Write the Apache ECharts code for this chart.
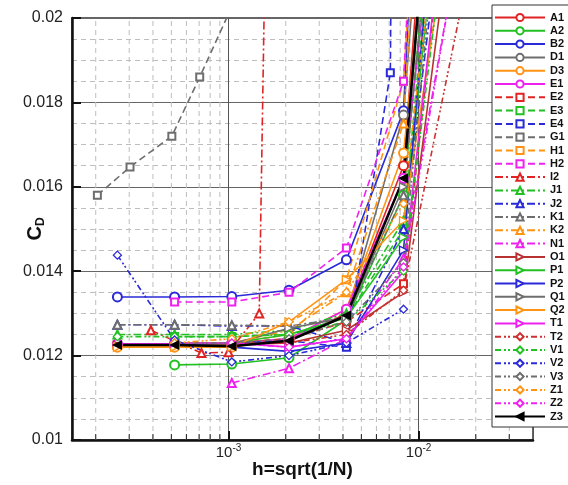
<!DOCTYPE html>
<html><head><meta charset="utf-8">
<script src="https://cdn.jsdelivr.net/npm/echarts@6/dist/echarts.min.js"></script>
<style>html,body{margin:0;padding:0;background:#fff}#c{width:568px;height:485px}</style>
</head><body><div id="c"></div>
<script>
// grid spacing values h
const H = [2.6e-4, 5.2e-4, 1.04e-3, 2.08e-3, 4.17e-3, 8.33e-3, 1.667e-2];
const H_E4 = [1.04e-3, 2.08e-3, 4.17e-3, 7.1e-3, 7.6e-3];
const H_G1 = [2.04e-4, 3.03e-4, 5.03e-4, 7.05e-4, 1.0e-3];
const H_I2 = [3.9e-4, 7.2e-4, 1.0e-3, 1.45e-3, 1.55e-3];
// CD values
const A1 = [0.01225, 0.01225, 0.01225, 0.01235, 0.0130, 0.0165, 0.034];
const A2 = [null, 0.01178, 0.0118, 0.01195, 0.01285, 0.0158, 0.030];
const B2 = [0.01339, 0.01339, 0.0134, 0.01355, 0.01427, 0.0178, 0.045];
const D1 = [0.01228, 0.01228, 0.01228, 0.0124, 0.01295, 0.0177, 0.035];
const D3 = [0.0122, 0.0122, 0.0122, 0.0124, 0.0131, 0.0168, 0.030];
const E1 = [0.01228, 0.01228, 0.0123, 0.0124, 0.0131, 0.0162, 0.028];
const E2 = [null, 0.0123, 0.0123, 0.0124, 0.0128, 0.0137, 0.026];
const E3 = [null, 0.01245, 0.01245, 0.0125, 0.0129, 0.0150, 0.030];
const E4 = [0.0123, 0.01235, 0.0122, 0.0187, 0.035];
const G1 = [0.0158, 0.01647, 0.0172, 0.0186, 0.0201];
const H1 = [null, 0.0123, 0.0123, 0.0125, 0.0138, 0.0185, 0.040];
const H2 = [null, 0.01327, 0.01327, 0.0135, 0.01455, 0.0185, 0.045];
const I2 = [0.0126, 0.01206, 0.01208, 0.0130, 0.0210];
const J1 = [0.0125, 0.0125, 0.0125, 0.0126, 0.0130, 0.0152, 0.028];
const J2 = [0.01273, 0.01273, 0.0127, 0.0127, 0.0123, 0.0150, 0.026];
const K1 = [0.01273, 0.01273, 0.01272, 0.0127, 0.0129, 0.0158, 0.030];
const K2 = [null, 0.0123, 0.0123, 0.0126, 0.0135, 0.0175, 0.040];
const N1 = [null, null, 0.01135, 0.0117, 0.0124, 0.0143, 0.022];
const O1 = [0.01225, 0.01225, 0.01225, 0.0123, 0.0126, 0.0135, 0.024];
const P1 = [null, 0.0123, 0.0123, 0.0125, 0.0129, 0.0148, 0.028];
const P2 = [null, 0.0123, 0.0122, 0.0121, 0.0123, 0.0145, 0.030];
const Q1 = [null, 0.01228, 0.01228, 0.01265, 0.0129, 0.0160, 0.032];
const Q2 = [0.0122, 0.0122, 0.0122, 0.0128, 0.0138, 0.0152, 0.024];
const T1 = [null, 0.0123, 0.0123, 0.0122, 0.0124, 0.0140, 0.026];
const T2 = [null, null, 0.0123, 0.0123, 0.0125, 0.01355, 0.0202];
const V1 = [0.01245, 0.01245, 0.01245, 0.0125, 0.0128, 0.0140, 0.025];
const V2 = [0.01438, 0.01237, 0.01185, 0.0120, 0.0123, 0.0131, null];
const V3 = [null, 0.0123, 0.0123, 0.0124, 0.0128, 0.0142, 0.028];
const Z1 = [null, 0.0123, 0.0124, 0.0128, 0.0135, 0.0156, 0.027];
const Z2 = [null, null, 0.0123, 0.0122, 0.0124, 0.0141, 0.022];
const Z3 = [0.01225, 0.01225, 0.01222, 0.01235, 0.01295, 0.0162, 0.032];
// axis ticks
const Y_TICKS = [0.01, 0.012, 0.014, 0.016, 0.018, 0.02];
const X_MINOR = [2e-4,3e-4,4e-4,5e-4,6e-4,7e-4,8e-4,9e-4,2e-3,3e-3,4e-3,5e-3,6e-3,7e-3,8e-3,9e-3,2e-2,3e-2];

const RED='#e02424', GRN='#22c022', BLU='#2a2ad8', GRY='#6e6e6e', ORG='#ff9414', MAG='#ee22ee';
const DASH=[7,4], DD=[8,3,2,3], DDD=[6,3,2,2,2,3];
const RT='path://M0,0 L10,5 L0,10 Z', LT='path://M10,0 L0,5 L10,10 Z', DI='path://M5,0 L10,5 L5,10 L0,5 Z';
const defs = [
 ['A1',H,A1,RED,'solid','emptyCircle',9],
 ['A2',H,A2,GRN,'solid','emptyCircle',9],
 ['B2',H,B2,BLU,'solid','emptyCircle',9],
 ['D1',H,D1,GRY,'solid','emptyCircle',9],
 ['D3',H,D3,ORG,'solid','emptyCircle',9],
 ['E1',H,E1,MAG,'solid','emptyCircle',9],
 ['E2',H,E2,RED,DASH,'emptyRect',7],
 ['E3',H,E3,GRN,DASH,'emptyRect',7],
 ['E4',H_E4,E4,BLU,DASH,'emptyRect',7],
 ['G1',H_G1,G1,GRY,DASH,'emptyRect',7],
 ['H1',H,H1,ORG,DASH,'emptyRect',7],
 ['H2',H,H2,MAG,DASH,'emptyRect',7],
 ['I2',H_I2,I2,RED,DD,'emptyTriangle',8],
 ['J1',H,J1,GRN,DD,'emptyTriangle',8],
 ['J2',H,J2,BLU,DD,'emptyTriangle',8],
 ['K1',H,K1,GRY,DD,'emptyTriangle',8],
 ['K2',H,K2,ORG,DD,'emptyTriangle',8],
 ['N1',H,N1,MAG,DD,'emptyTriangle',8],
 ['O1',H,O1,'#b83232','solid',RT,8],
 ['P1',H,P1,GRN,'solid',RT,8],
 ['P2',H,P2,BLU,'solid',RT,8],
 ['Q1',H,Q1,GRY,'solid',RT,8],
 ['Q2',H,Q2,ORG,'solid',RT,8],
 ['T1',H,T1,MAG,'solid',RT,8],
 ['T2',H,T2,'#cc3030',DDD,DI,8],
 ['V1',H,V1,GRN,DDD,DI,8],
 ['V2',H,V2,BLU,DDD,DI,8],
 ['V3',H,V3,GRY,DDD,DI,8],
 ['Z1',H,Z1,ORG,DDD,DI,8],
 ['Z2',H,Z2,MAG,DDD,DI,8],
 ['Z3',H,Z3,'#000000','solid',LT,8]
];
const series = defs.map(d => {
  const isPath = d[5].indexOf('path://') === 0;
  return {
    name: d[0], type: 'line', z: 3,
    data: d[1].map((x,i)=>[x, d[2][i]]).filter(p=>p[1]!=null),
    symbol: d[5], symbolSize: d[6], showAllSymbol: true,
    itemStyle: {color: (isPath && d[0]!=='Z3') ? '#fff' : d[3], borderColor: d[3], borderWidth: 1.3},
    lineStyle: {color: d[3], width: d[0]==='Z3'?2.5:1.6, type: d[4]},
    emphasis: {disabled: true}, animation: false
  };
});
series.push({
  type: 'custom', z: 1, silent: true, animation: false,
  data: X_MINOR.map(x=>[x, 0.01]),
  renderItem: function(params, api){
    const x = api.value(0);
    const p0 = api.coord([x, 0.01]), p1 = api.coord([x, 0.02]);
    return {type:'group', children:[
      {type:'line', shape:{x1:p0[0], y1:p0[1], x2:p1[0], y2:p1[1]}, style:{stroke:'#bdbdbd', lineWidth:1, lineDash:[5,4]}},
      {type:'line', shape:{x1:p0[0], y1:p0[1], x2:p0[0], y2:p0[1]-6}, style:{stroke:'#222', lineWidth:1}}
    ]};
  }
});
const chart = echarts.init(document.getElementById('c'), null, {renderer:'canvas'});
chart.setOption({
  backgroundColor: '#fff',
  animation: false,
  grid: {left: 72, top: 18, width: 461, height: 422, show: true, borderColor: '#333', borderWidth: 1.5, backgroundColor: 'transparent', containLabel: false, outerBoundsMode: 'none'},
  legend: {
    orient: 'vertical', left: 492, top: 5, data: defs.map(d=>d[0]),
    itemWidth: 50, itemHeight: 9, itemGap: 2.3,
    backgroundColor: '#fff', borderColor: '#333', borderWidth: 1, padding: [7, 30, 5, 2],
    textStyle: {fontFamily: 'Liberation Sans, Arial', fontWeight: 'bold', fontSize: 11, color: '#111'},
    selectedMode: false
  },
  xAxis: {
    type: 'log', logBase: 10, min: 1.5e-4, max: 0.04,
    name: 'h=sqrt(1/N)', nameLocation: 'middle', nameGap: 20, nameMoveOverlap: false,
    nameTextStyle: {fontFamily: 'Liberation Sans, Arial', fontWeight: 'bold', fontSize: 19, color: '#111'},
    axisLine: {onZero: false, lineStyle: {color: '#111', width: 2.5}},
    axisTick: {inside: true, length: 9, lineStyle: {color: '#111', width: 2}},
    splitLine: {show: true, lineStyle: {color: '#555', width: 1}},
    axisLabel: {
      showMinLabel: false, showMaxLabel: false, margin: 3,
      formatter: function(v){ const e = Math.round(Math.log10(v)); return '{b|10}{s|' + e + '}'; },
      rich: {b: {fontFamily:'Liberation Sans, Arial', fontSize: 15, color:'#222'}, s: {fontFamily:'Liberation Sans, Arial', fontSize: 10, color:'#222', padding:[0,0,9,0]}}
    }
  },
  yAxis: {
    type: 'value', min: 0.01, max: 0.02, interval: 0.002,
    name: '{c|C}{d|D}', nameLocation: 'middle', nameGap: 25, nameMoveOverlap: false,
    nameTextStyle: {rich: {c: {fontFamily:'Liberation Sans, Arial', fontWeight:'bold', fontSize: 20, color:'#111'}, d: {fontFamily:'Liberation Sans, Arial', fontWeight:'bold', fontSize: 12, color:'#111', padding:[12,0,0,0]}}},
    axisLine: {show: true, lineStyle: {color: '#111', width: 2.5}},
    axisTick: {inside: true, length: 9, lineStyle: {color: '#111', width: 2}},
    splitLine: {show: true, lineStyle: {color: '#666', width: 1}},
    minorTick: {show: false, splitNumber: 4},
    minorSplitLine: {show: true, lineStyle: {color: '#bdbdbd', width: 1, type: [5,4]}},
    axisLabel: {fontFamily: 'Liberation Sans, Arial', fontSize: 16, color: '#222', margin: 9,
      formatter: function(v){ return String(parseFloat(v.toFixed(4))); }}
  },
  series: series
});
</script></body></html>
